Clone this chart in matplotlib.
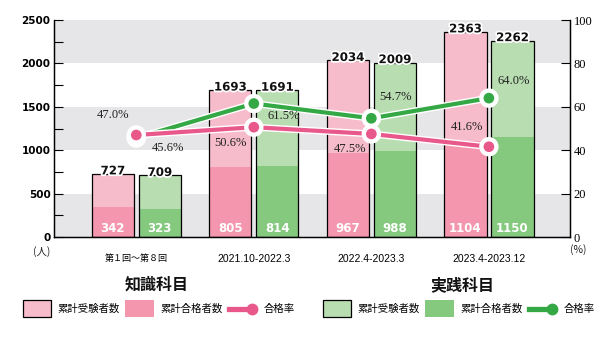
import matplotlib
matplotlib.use("Agg")
import matplotlib.pyplot as plt
import matplotlib.patheffects as pe
from matplotlib.patches import Rectangle
from matplotlib.lines import Line2D
import numpy as np

plt.rcParams['font.family'] = ['DejaVu Sans', 'Noto Sans CJK JP']

# ---------------- data ----------------
periods = ["第１回～第８回", "2021.10-2022.3", "2022.4-2023.3", "2023.4-2023.12"]
know_takers = [727, 1693, 2034, 2363]
know_passed = [342, 805, 967, 1104]
know_rate = [47.0, 50.6, 47.5, 41.6]
prac_takers = [709, 1691, 2009, 2262]
prac_passed = [323, 814, 988, 1150]
prac_rate = [45.6, 61.5, 54.7, 64.0]
left_ticks = [0, 500, 1000, 1500, 2000, 2500]
right_ticks = [0, 20, 40, 60, 80, 100]

# label offsets (pixels) for the rate labels
know_off = [(-23, 20), (-23, -16), (-21, -15), (-22, 20)]
prac_off = [(32, -10), (30, -12), (24, 21), (25, 17)]

# ---------------- style ----------------
PINK_L = "#f7bccb"
PINK_D = "#f396ae"
PINK_LINE = "#e8588a"
GREEN_L = "#b8ddb1"
GREEN_D = "#85c97f"
GREEN_LINE = "#34a844"
BAND = "#e6e6e8"
JP = "Noto Sans CJK JP"
SERIF = "Liberation Serif"

W, H = 616, 342
fig = plt.figure(figsize=(W / 100, H / 100), dpi=100)
ax = fig.add_axes([54 / W, 1 - 237 / H, 516 / W, 217 / H])
ax2 = ax.twinx()

x = np.arange(len(periods))
bw = 0.36
off = 0.2

ax.set_xlim(-0.70, 3.69)
ax.set_ylim(0, 2500)
ax2.set_ylim(0, 100)

for lo in (0, 1000, 2000):
    ax.axhspan(lo, lo + 500, color=BAND, lw=0, zorder=0)

for xs, tot, pas, cl, cd in ((x - off, know_takers, know_passed, PINK_L, PINK_D),
                             (x + off, prac_takers, prac_passed, GREEN_L, GREEN_D)):
    ax.bar(xs, tot, width=bw, color=cl, lw=0, zorder=2)
    ax.bar(xs, pas, width=bw, color=cd, lw=0, zorder=2)
    ax.bar(xs, tot, width=bw, facecolor="none", edgecolor="black", lw=0.9, zorder=3)
    for xi, t, p in zip(xs, tot, pas):
        ax.annotate(str(t), (xi, t), xytext=(0, 3), textcoords="offset pixels",
                    ha="center", va="center", fontsize=8.5, fontweight="bold",
                    color="#111111", zorder=6,
                    path_effects=[pe.withStroke(linewidth=2.5, foreground="white")])
        ax.annotate(str(p), (xi, 0), xytext=(0, 9), textcoords="offset pixels",
                    ha="center", va="center", fontsize=8.5, fontweight="bold",
                    color="white", zorder=6)

# rate lines
for rates, col, z, offs in ((prac_rate, GREEN_LINE, 4, prac_off),
                            (know_rate, PINK_LINE, 5, know_off)):
    ax2.plot(x, rates, color=col, lw=3, marker="o", markersize=9,
             markerfacecolor=col, markeredgecolor="white", markeredgewidth=1.3,
             zorder=z, solid_capstyle="round",
             path_effects=[pe.Stroke(linewidth=5, foreground="white"), pe.Normal()])
    for xi, r, (dx, dy) in zip(x, rates, offs):
        ax2.annotate(f"{r:.1f}%", (xi, r), xytext=(dx, dy), textcoords="offset pixels",
                     ha="center", va="center", fontsize=9, family=SERIF,
                     color="#222222", zorder=7)

ax.set_zorder(1)
ax2.set_zorder(2)
ax2.patch.set_visible(False)

# axes styling
for a in (ax, ax2):
    a.spines["top"].set_visible(False)
    for s in ("left", "right", "bottom"):
        a.spines[s].set_linewidth(0.9)
        a.spines[s].set_color("black")

ax.set_yticks(left_ticks)
ax.set_yticks(np.arange(250, 2500, 500), minor=True)
ax.tick_params(axis="y", which="both", direction="in", length=6.5, width=0.8,
               pad=2.5, labelsize=7.5)
for lab in ax.get_yticklabels():
    lab.set_fontweight("bold")

ax2.set_yticks(right_ticks)
ax2.tick_params(axis="y", direction="in", length=6.5, width=0.8, pad=2.5,
                labelsize=9)
for lab in ax2.get_yticklabels():
    lab.set_family(SERIF)

ax.set_xticks(x)
ax.set_xticklabels(periods)
ax.tick_params(axis="x", length=0, pad=12, labelsize=7.5)
for i, lab in enumerate(ax.get_xticklabels()):
    if i == 0:
        lab.set_family(JP)
        lab.set_fontsize(6.5)
    else:
        lab.set_family("Liberation Sans")

# overlay for legend & unit labels
ov = fig.add_axes([0, 0, 1, 1], zorder=10)
ov.set_xlim(0, W)
ov.set_ylim(H, 0)
ov.axis("off")

ov.text(42, 252, "(人)", ha="center", va="center", fontsize=7.5, family=JP, color="#222222")
ov.text(578, 250, "(%)", ha="center", va="center", fontsize=7.5, family=JP, color="#222222")

def legend_block(x0, title_x, cl, cd, lc):
    y0, h = 300, 17
    yc = y0 + h / 2
    ov.text(title_x, 285, "知識科目" if cl == PINK_L else "実践科目", ha="center",
            va="center", fontsize=11.5, fontweight="bold", family=JP, color="#111111")
    ov.add_patch(Rectangle((x0, y0), 28, h, facecolor=cl, edgecolor="black", lw=0.9))
    ov.text(x0 + 34, yc, "累計受験者数", ha="left", va="center", fontsize=7.5, family=JP)
    ov.add_patch(Rectangle((x0 + 102, y0), 29, h, facecolor=cd, edgecolor="none"))
    ov.text(x0 + 137, yc, "累計合格者数", ha="left", va="center", fontsize=7.5, family=JP)
    ov.add_line(Line2D([x0 + 206, x0 + 226], [yc, yc], color=lc, lw=3.8))
    ov.add_line(Line2D([x0 + 229], [yc], color=lc, marker="o", markersize=8.5,
                       markeredgewidth=0))
    ov.text(x0 + 241, yc, "合格率", ha="left", va="center", fontsize=7.5, family=JP)

legend_block(23, 157, PINK_L, PINK_D, PINK_LINE)
legend_block(323, 462, GREEN_L, GREEN_D, GREEN_LINE)

fig.savefig("out.png", dpi=100)
